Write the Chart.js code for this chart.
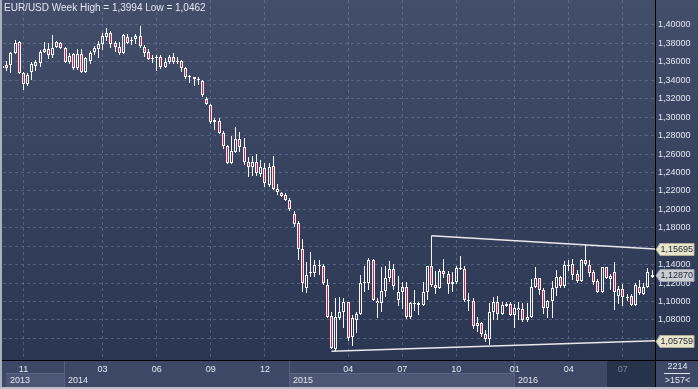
<!DOCTYPE html>
<html><head><meta charset="utf-8">
<script src="https://cdn.jsdelivr.net/npm/chart.js@4.4.1/dist/chart.umd.min.js"></script>
<style>html,body{margin:0;padding:0;background:#2f3a55;overflow:hidden}canvas{display:block}</style>
</head><body>
<canvas id="c" width="698" height="389"></canvas>
<script>
// Weekly EUR/USD candles (index 0 = first visible bar)
const OPEN = [
1.3535,1.3566,1.3566,1.3693,1.3819,1.3483,1.3356,1.3494,1.3555,1.3590,
1.3711,1.3740,1.3673,1.3765,1.3801,1.3754,1.3595,1.3682,1.3530,1.3682,
1.3487,1.3610,1.3711,1.3740,1.3790,1.3875,1.3909,1.3801,1.3758,1.3700,
1.3866,1.3832,1.3844,1.3880,1.3765,1.3711,1.3632,1.3640,1.3656,1.3548,
1.3600,1.3656,1.3613,1.3610,1.3530,1.3432,1.3432,1.3411,1.3396,1.3193,
1.3132,1.2951,1.2962,1.2825,1.2687,1.2507,1.2626,1.2760,1.2673,1.2518,
1.2460,1.2518,1.2380,1.2445,1.2260,1.2470,1.2184,1.2174,1.2156,1.2102,
1.1950,1.1856,1.1566,1.1143,1.1306,1.1306,1.1382,1.1389,1.1180,1.0843,
1.0490,1.0825,1.0885,1.0990,1.0612,1.0800,1.0870,1.1200,1.1200,1.1450,
1.1010,1.0985,1.1110,1.1260,1.1350,1.1020,1.1100,1.1160,1.0830,1.0975,
1.0980,1.0965,1.1105,1.1385,1.1180,1.1150,1.1335,1.1300,1.1195,1.1210,
1.1360,1.1350,1.1015,1.1005,1.0740,1.0770,1.0645,1.0590,1.0885,1.0990,
1.0865,1.0951,1.0973,1.0854,1.0930,1.0915,1.0795,1.0830,1.1155,1.1255,
1.1130,1.0935,1.1005,1.1150,1.1270,1.1165,1.1390,1.1410,1.1300,1.1218,
1.1455,1.1400,1.1324,1.1227,1.1107,1.1371,1.1250,1.1324,1.1060,1.1133,
1.1047,1.1060,1.0963,1.1162,1.1082,1.1154,1.1270];
const HIGH = [
1.3590,1.3610,1.3711,1.3837,1.3826,1.3494,1.3476,1.3602,1.3621,1.3730,
1.3811,1.3800,1.3893,1.3826,1.3812,1.3760,1.3693,1.3700,1.3740,1.3739,
1.3650,1.3716,1.3773,1.3825,1.3915,1.3967,1.3938,1.3830,1.3810,1.3906,
1.3905,1.3865,1.3906,1.3994,1.3783,1.3735,1.3675,1.3677,1.3677,1.3644,
1.3677,1.3700,1.3649,1.3625,1.3540,1.3460,1.3440,1.3435,1.3403,1.3215,
1.3143,1.2990,1.2995,1.2850,1.2700,1.2796,1.2890,1.2843,1.2770,1.2572,
1.2579,1.2600,1.2535,1.2500,1.2507,1.2580,1.2275,1.2192,1.2181,1.2120,
1.1986,1.1878,1.1675,1.1433,1.1534,1.1450,1.1450,1.1410,1.1240,1.0890,
1.1035,1.1050,1.1035,1.1000,1.0850,1.0890,1.1290,1.1390,1.1467,1.1465,
1.1040,1.1380,1.1385,1.1436,1.1410,1.1280,1.1215,1.1215,1.0990,1.1130,
1.0990,1.1215,1.1390,1.1714,1.1330,1.1350,1.1460,1.1330,1.1318,1.1390,
1.1495,1.1390,1.1095,1.1040,1.0830,1.0780,1.0690,1.0980,1.1045,1.1060,
1.0990,1.0995,1.0990,1.0970,1.0995,1.0985,1.0985,1.1245,1.1376,1.1260,
1.1145,1.1015,1.1218,1.1340,1.1280,1.1440,1.1455,1.1465,1.1345,1.1460,
1.1616,1.1450,1.1345,1.1250,1.1378,1.1380,1.1300,1.1428,1.1170,1.1185,
1.1080,1.1080,1.1198,1.1235,1.1198,1.1360,1.1340];
const LOW = [
1.3495,1.3500,1.3476,1.3682,1.3465,1.3290,1.3335,1.3400,1.3500,1.3548,
1.3693,1.3627,1.3640,1.3758,1.3747,1.3588,1.3573,1.3510,1.3507,1.3484,
1.3477,1.3580,1.3675,1.3642,1.3730,1.3830,1.3750,1.3705,1.3673,1.3695,
1.3790,1.3785,1.3795,1.3755,1.3648,1.3615,1.3585,1.3503,1.3526,1.3536,
1.3574,1.3580,1.3575,1.3490,1.3410,1.3367,1.3333,1.3350,1.3222,1.3130,
1.2926,1.2860,1.2815,1.2660,1.2500,1.2499,1.2615,1.2626,1.2481,1.2355,
1.2358,1.2358,1.2355,1.2247,1.2246,1.2210,1.2156,1.2131,1.2094,1.1986,
1.1805,1.1451,1.1107,1.1089,1.1270,1.1270,1.1285,1.1177,1.0830,1.0487,
1.0462,1.0800,1.0714,1.0570,1.0520,1.0660,1.0850,1.1100,1.1130,1.1010,
1.0819,1.0890,1.1050,1.1215,1.1130,1.0955,1.0915,1.0810,1.0810,1.0900,
1.0850,1.0960,1.1015,1.1156,1.1085,1.1140,1.1255,1.1085,1.1105,1.1185,
1.1345,1.1000,1.0895,1.0705,1.0675,1.0620,1.0560,1.0524,1.0800,1.0805,
1.0850,1.0940,1.0850,1.0710,1.0805,1.0780,1.0780,1.0825,1.1150,1.1070,
1.0860,1.0825,1.0820,1.1055,1.1145,1.1145,1.1330,1.1235,1.1205,1.1210,
1.1385,1.1270,1.1175,1.1090,1.1095,1.1240,1.1130,1.0912,1.0975,1.0950,
1.1002,1.0952,1.0952,1.1070,1.1070,1.1143,1.1262];
const CLOSE = [
1.3552,1.3537,1.3693,1.3801,1.3476,1.3356,1.3458,1.3573,1.3598,1.3705,
1.3736,1.3673,1.3745,1.3812,1.3754,1.3595,1.3667,1.3530,1.3682,1.3487,
1.3646,1.3693,1.3747,1.3790,1.3880,1.3910,1.3794,1.3758,1.3700,1.3891,
1.3808,1.3838,1.3880,1.3772,1.3692,1.3627,1.3640,1.3648,1.3548,1.3600,
1.3649,1.3595,1.3595,1.3530,1.3432,1.3442,1.3411,1.3400,1.3240,1.3143,
1.2951,1.2965,1.2830,1.2682,1.2507,1.2633,1.2760,1.2673,1.2518,1.2456,
1.2518,1.2391,1.2456,1.2282,1.2460,1.2217,1.2217,1.2147,1.2100,1.2000,
1.1841,1.1566,1.1198,1.1288,1.1324,1.1396,1.1392,1.1198,1.0836,1.0493,
1.0830,1.0885,1.0990,1.0601,1.0818,1.0870,1.1200,1.1210,1.1450,1.1015,
1.0985,1.1110,1.1260,1.1350,1.1165,1.1100,1.1160,1.0830,1.0980,1.0985,
1.0965,1.1105,1.1385,1.1180,1.1150,1.1335,1.1300,1.1195,1.1210,1.1360,
1.1350,1.1015,1.1005,1.0740,1.0770,1.0645,1.0590,1.0885,1.0990,1.0865,
1.0965,1.0973,1.0854,1.0925,1.0905,1.0795,1.0830,1.1155,1.1255,1.1130,
1.0935,1.1005,1.1150,1.1270,1.1165,1.1395,1.1400,1.1288,1.1218,1.1455,
1.1405,1.1306,1.1216,1.1107,1.1371,1.1252,1.1275,1.1107,1.1133,1.1053,
1.1040,1.0963,1.1180,1.1089,1.1154,1.1324,1.1287];

// axis ticks and labels
const Y_TICKS = [1.06,1.08,1.10,1.12,1.14,1.16,1.18,1.20,1.22,1.24,1.26,1.28,1.30,1.32,1.34,1.36,1.38,1.40];
const MONTH_TICK_INDEX = [5,24,37,50,63,83,96,109,123,136,149];
const MONTH_LABELS = ['11','03','06','09','12','04','07','10','01','04','07'];
const YEAR_START_INDEX = [0,15,69,123];
const YEAR_LABELS = ['2013','2014','2015','2016'];

// drawn trend lines (bar index, price)
const UPPER_TREND = [{x:103,y:1.1714},{x:156.72,y:1.15695}];
const LOWER_TREND = [{x:79,y:1.0461},{x:156.72,y:1.05759}];

// price tags on the right axis
const TAG_VALUES = [1.15695,1.12870,1.05759];
const TAG_KINDS = ['trend','last','trend'];

const TITLE = 'EUR/USD Week High = 1,3994 Low = 1,0462';
const BAR_TOTAL = '2214';
const BAR_VISIBLE = '>157<';

const FONT = "'Liberation Sans', Arial, sans-serif";
const TXT = '#e2e8f2';
const RED = '#e41b43';
const fmt = v => v.toFixed(5).replace('.', ',');

const bodies = OPEN.map((o,i)=>({x:i, y:[o, CLOSE[i]]}));
const upperWicks = OPEN.map((o,i)=>({x:i, y:[Math.max(o,CLOSE[i]), HIGH[i]]}));
const lowerWicks = OPEN.map((o,i)=>({x:i, y:[LOW[i], Math.min(o,CLOSE[i])]}));

const crisp = {
  id:'crisp',
  beforeDatasetsDraw(chart){
    const ctx = chart.ctx;
    ctx._origRect = ctx.rect;
    ctx.rect = function(x,y,w,h){
      const x1 = Math.round(x), y1 = Math.round(y);
      let x2 = Math.round(x+w), y2 = Math.round(y+h);
      if (Math.abs(h) > 0.05 && y2 === y1) y2 = y1 + 1;
      if (Math.abs(w) > 0.05 && x2 === x1) x2 = x1 + 1;
      return ctx._origRect.call(this, x1, y1, x2-x1, y2-y1);
    };
  },
  afterDatasetsDraw(chart){ chart.ctx.rect = chart.ctx._origRect; }
};

const bg = {
  id:'bg',
  beforeDraw(chart){
    const {ctx, chartArea:a, scales:{x}} = chart;
    const W = chart.width, H = chart.height;
    ctx.save();
    const g = ctx.createLinearGradient(0,0,0,a.bottom);
    g.addColorStop(0,'#434e6b'); g.addColorStop(1,'#2b3652');
    ctx.fillStyle = g; ctx.fillRect(0,0,W,a.bottom);
    ctx.fillStyle = '#3c4865'; ctx.fillRect(0,a.bottom,W,H-a.bottom);
    // year row
    const darkFrom = x.getPixelForValue(145.2);
    ctx.font = '9px ' + FONT; ctx.textBaseline = 'middle'; ctx.textAlign = 'left';
    YEAR_START_INDEX.forEach((si,i)=>{
      const xs = i === 0 ? a.left + 3 : Math.round(x.getPixelForValue(si)) - 1;
      const xe = i < YEAR_START_INDEX.length-1 ? Math.round(x.getPixelForValue(YEAR_START_INDEX[i+1])) - 1 : darkFrom;
      if (i % 2 === 0) {
        ctx.fillStyle = '#4b5775'; ctx.fillRect(xs, 374, xe-xs, 13);
        ctx.fillStyle = '#5a6683'; ctx.fillRect(xs, 373, xe-xs, 1);
      }
      if (i > 0) { ctx.fillStyle = '#56627f'; ctx.fillRect(xs, a.bottom+1, 1, H-a.bottom-3); }
      ctx.fillStyle = TXT; ctx.fillText(YEAR_LABELS[i], xs+4, 380.5);
    });
    ctx.fillStyle = '#27324b'; ctx.fillRect(darkFrom, a.bottom+1, a.right-darkFrom, H-a.bottom-3);
    ctx.restore();
  }
};

function drawTag(ctx, y, text, kind){
  const xl = 656, xb = 660, xr = 694, h = 12;
  ctx.beginPath();
  ctx.moveTo(xl, y);
  ctx.lineTo(xb, y - h/2);
  ctx.lineTo(xr, y - h/2);
  ctx.lineTo(xr, y + h/2);
  ctx.lineTo(xb, y + h/2);
  ctx.closePath();
  ctx.fillStyle = kind === 'last' ? '#c9cdd3' : '#e7e5cc';
  ctx.fill();
  ctx.strokeStyle = kind === 'last' ? '#9aa0a8' : '#b0ae98';
  ctx.lineWidth = 1; ctx.stroke();
  ctx.fillStyle = '#1d2230';
  ctx.textAlign = 'left'; ctx.textBaseline = 'middle';
  ctx.fillText(text, xb + 0.5, y + 0.5);
}

const fg = {
  id:'fg',
  afterDraw(chart){
    const {ctx, chartArea:a, scales:{y}} = chart;
    const W = chart.width, H = chart.height;
    ctx.save();
    ctx.fillStyle = '#000';
    ctx.fillRect(0, a.bottom, W, 1);
    ctx.fillRect(a.right, 0, 1, H);
    // frame
    ctx.fillStyle = '#a9b1c0'; ctx.fillRect(0,0,2,H);
    ctx.fillStyle = '#b7bfcb'; ctx.fillRect(0,H-2,W,2);
    // title
    ctx.font = '10px ' + FONT; ctx.fillStyle = TXT;
    ctx.textAlign = 'left'; ctx.textBaseline = 'middle';
    ctx.fillText(TITLE, 4, 8);
    // tags
    ctx.font = '9px ' + FONT;
    TAG_VALUES.forEach((v,i)=> drawTag(ctx, Math.round(y.getPixelForValue(v)) + 0.5, fmt(v), TAG_KINDS[i]));
    // bottom-right counters
    const cx = (a.right + W) / 2 + 1;
    ctx.fillStyle = TXT; ctx.textAlign = 'center';
    ctx.fillText(BAR_TOTAL, cx, 367);
    ctx.fillRect(664, 373, 26, 1);
    ctx.fillText(BAR_VISIBLE, cx, 381);
    ctx.restore();
  }
};

const GRID = 'rgba(125,140,172,0.45)';

new Chart(document.getElementById('c'), {
  data:{ datasets:[
    {type:'line', data:UPPER_TREND, borderColor:'rgba(242,242,242,0.95)', borderWidth:1.5, pointRadius:0, tension:0, order:0},
    {type:'line', data:LOWER_TREND, borderColor:'rgba(242,242,242,0.95)', borderWidth:1.5, pointRadius:0, tension:0, order:0},
    {type:'bar', data:upperWicks, barThickness:1, backgroundColor:'#f6f6f6', borderWidth:0, grouped:false, inflateAmount:0, order:2},
    {type:'bar', data:lowerWicks, barThickness:1, backgroundColor:'#f6f6f6', borderWidth:0, grouped:false, inflateAmount:0, order:2},
    {type:'bar', data:bodies, barThickness:3, borderColor:'#f6f6f6', borderWidth:1, borderSkipped:false, grouped:false, inflateAmount:0, order:1,
      backgroundColor: c => CLOSE[c.dataIndex] < OPEN[c.dataIndex] ? RED : 'rgba(0,0,0,0)'}
  ]},
  options:{
    responsive:false, animation:false, devicePixelRatio:1,
    layout:{padding:{left:3,right:0,top:0,bottom:0}},
    plugins:{legend:{display:false}, tooltip:{enabled:false}, title:{display:false}},
    scales:{
      x:{type:'linear', position:'bottom', min:0.08, max:156.72, offset:false,
        afterBuildTicks: s => { s.ticks = MONTH_TICK_INDEX.map(v=>({value:v})); },
        afterFit: s => { s.height = 29; s.paddingLeft = 0; s.paddingRight = 0; },
        ticks:{autoSkip:false, maxRotation:0, minRotation:0, padding:4,
          font:{family:FONT, size:9},
          color: c => c.index === MONTH_LABELS.length-1 ? '#7c89a4' : TXT,
          callback:(v,i)=>MONTH_LABELS[i]},
        grid:{color:GRID, drawTicks:false, offset:false, lineWidth:1},
        border:{display:false, dash:[3,3]}},
      y:{type:'linear', position:'right', min:1.0366, max:1.4271, beginAtZero:false,
        afterBuildTicks: s => { s.ticks = Y_TICKS.map(v=>({value:v})); },
        afterFit: s => { s.width = 43; s.paddingTop = 0; s.paddingBottom = 0; },
        ticks:{padding:3, font:{family:FONT, size:9}, color:TXT, callback: v => fmt(v)},
        grid:{color:GRID, drawTicks:false, lineWidth:1},
        border:{display:false, dash:[3,3]}}
    }
  },
  plugins:[bg, crisp, fg]
});
</script>
</body></html>
